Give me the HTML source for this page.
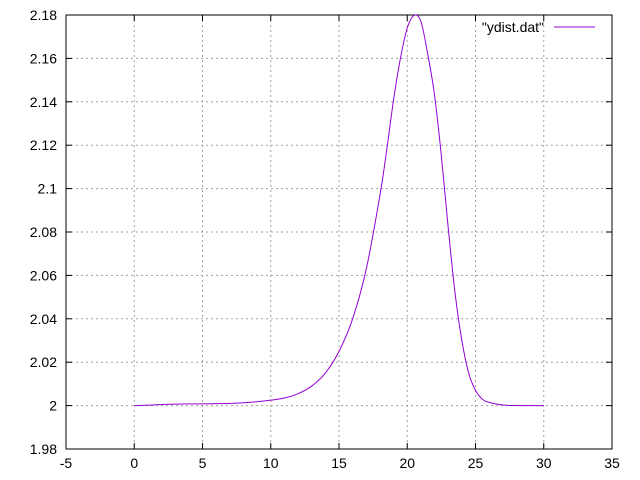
<!DOCTYPE html>
<html><head><meta charset="utf-8"><style>
body{margin:0;background:#fff}
svg{display:block;font-family:"Liberation Sans",sans-serif;font-size:14px}
</style></head><body>
<svg id="chart" width="640" height="480">
<rect width="640" height="480" fill="#fff"/>
<g id="grid"></g><g id="axes"></g><g id="series"></g>
<g>
<text x="544" y="32" text-anchor="end">"ydist.dat"</text>
<line x1="554" y1="27" x2="595" y2="27" stroke="#9400d3" stroke-width="1"/>
</g>
</svg>
<script>
const xTicks=[-5,0,5,10,15,20,25,30,35];
const yTicks=[1.98,2,2.02,2.04,2.06,2.08,2.1,2.12,2.14,2.16,2.18];
const yLabels=["1.98","2","2.02","2.04","2.06","2.08","2.1","2.12","2.14","2.16","2.18"];
const xs=[0,1,2,3,4,5,6,7,8,9,10,11,12,13,14,15,16,17,18,18.5,19,19.5,20,20.5,21,21.5,22,22.5,23,23.5,24,24.5,25,25.5,26,27,28,29,30];
const ys=[2.0,2.0002,2.0005,2.0007,2.0008,2.0008,2.0009,2.001,2.0013,2.0018,2.0025,2.0035,2.0055,2.009,2.015,2.025,2.04,2.063,2.097,2.118,2.141,2.16,2.174,2.1798,2.177,2.162,2.143,2.115,2.082,2.052,2.03,2.015,2.007,2.003,2.0015,2.0003,2.0,2.0,2.0];
const L=66,R=612,T=15,B=449,NS="http://www.w3.org/2000/svg";
const X=v=>L+(v+5)/40*(R-L), Y=v=>B-(v-1.98)/0.2*(B-T);
function mk(p,t,a){const e=document.createElementNS(NS,t);for(const k in a)e.setAttribute(k,a[k]);p.appendChild(e);return e;}
const grid=document.getElementById('grid'),axes=document.getElementById('axes'),ser=document.getElementById('series');
xTicks.forEach(v=>{const x=X(v);
 if(v>-5&&v<35){const g=mk(grid,'line',{x1:x,y1:T,x2:x,y2:B,stroke:'#a0a0a0','stroke-dasharray':'2,3'});
 
 }
 mk(axes,'line',{x1:x,y1:B,x2:x,y2:B-6,stroke:'#000'});mk(axes,'line',{x1:x,y1:T,x2:x,y2:T+6,stroke:'#000'});
 const t=mk(axes,'text',{x:x,y:B+19,'text-anchor':'middle'});t.textContent=v;
 
 });
yTicks.forEach((v,i)=>{const y=Y(v);
 if(i>0&&i<yTicks.length-1){const g=mk(grid,'line',{x1:L,y1:y,x2:R,y2:y,stroke:'#a0a0a0','stroke-dasharray':'2,3'});
 
 }
 mk(axes,'line',{x1:L,y1:y,x2:L+6,y2:y,stroke:'#000'});mk(axes,'line',{x1:R,y1:y,x2:R-6,y2:y,stroke:'#000'});
 const t=mk(axes,'text',{x:L-9,y:y+5,'text-anchor':'end'});t.textContent=yLabels[i];
 
 });
const fr=mk(axes,'rect',{x:L,y:T,width:R-L,height:B-T,fill:'none',stroke:'#000'});


const P=xs.map((v,i)=>[X(v),Y(ys[i])]);
let d='M'+P[0][0]+','+P[0][1];
for(let i=0;i<P.length-1;i++){
 const p0=P[Math.max(0,i-1)],p1=P[i],p2=P[i+1],p3=P[Math.min(P.length-1,i+2)];
 const c1=[p1[0]+(p2[0]-p0[0])/6,p1[1]+(p2[1]-p0[1])/6];
 const c2=[p2[0]-(p3[0]-p1[0])/6,p2[1]-(p3[1]-p1[1])/6];
 d+=' C'+c1[0]+','+c1[1]+' '+c2[0]+','+c2[1]+' '+p2[0]+','+p2[1];
}
const pl=mk(ser,'path',{d:d,fill:'none',stroke:'#9400d3','stroke-width':1});


</script>
</body></html>
